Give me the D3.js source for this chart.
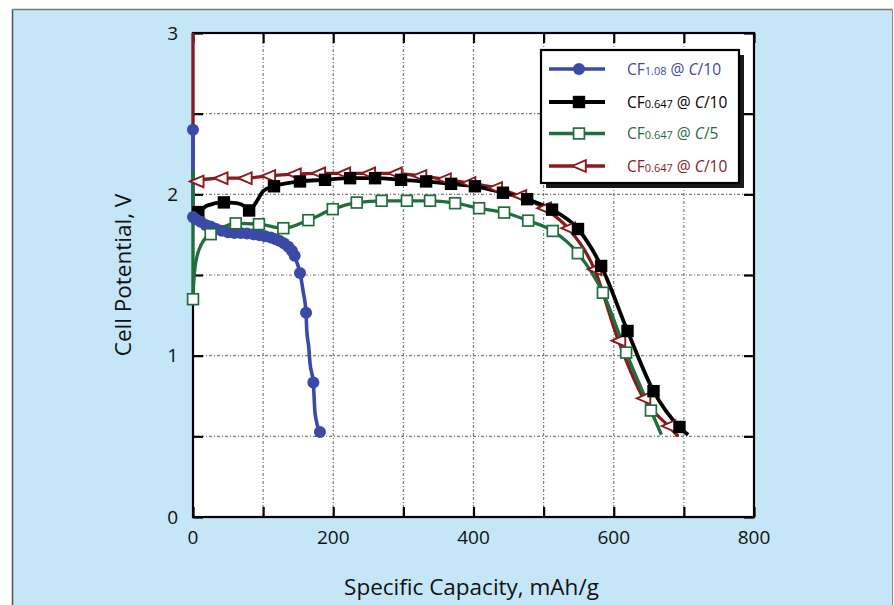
<!DOCTYPE html>
<html>
<head>
<meta charset="utf-8">
<script src="https://cdn.jsdelivr.net/npm/d3@7/dist/d3.min.js"></script>
<style>
  html, body { margin: 0; padding: 0; background: #ffffff; }
  svg { display: block; font-family: "Open Sans", "DejaVu Sans", sans-serif; }
</style>
</head>
<body>
<svg id="chart" width="894" height="605"></svg>
<script>
// ---------------- DATA ----------------
const xTicks = [0, 100, 200, 300, 400, 500, 600, 700, 800];
const xTickLabels = [0, 200, 400, 600, 800];
const yTicks = [0, 0.5, 1, 1.5, 2, 2.5, 3];
const yTickLabels = [0, 1, 2, 3];

// CF1.08 @ C/10 (blue)
const blueLineCap  = [0, 0, 4, 10, 24, 43, 67, 91, 110, 124, 136, 143, 148, 152.6, 157, 161.2, 162.2, 165, 166.9, 171.6, 174, 181];
const blueLineVolt = [2.40, 1.86, 1.845, 1.83, 1.80, 1.77, 1.76, 1.75, 1.735, 1.71, 1.675, 1.635, 1.58, 1.513, 1.40, 1.266, 1.16, 1.055, 0.952, 0.833, 0.645, 0.527];
const blueMarkCap  = [0, 0, 4, 11, 18, 25, 33, 41, 50, 59, 68, 77, 86, 95, 103, 111, 118, 124, 130, 136, 141, 145, 152.6, 161.2, 171.6, 181];
const blueMarkVolt = [2.40, 1.86, 1.845, 1.83, 1.81, 1.80, 1.785, 1.775, 1.765, 1.76, 1.76, 1.757, 1.752, 1.747, 1.74, 1.733, 1.722, 1.71, 1.695, 1.675, 1.65, 1.62, 1.513, 1.266, 0.833, 0.527];

// CF0.647 @ C/10 (black)
const blackLineCap  = [0, 7.6, 20, 44, 62, 74, 80, 90, 100, 115.5, 152.6, 188.3, 224, 259.6, 296.7, 332.4, 368, 402, 442, 476.5, 512, 549, 582, 619.6, 656.7, 693.7, 706];
const blackLineVolt = [1.88, 1.89, 1.93, 1.95, 1.945, 1.925, 1.90, 1.95, 2.02, 2.05, 2.08, 2.09, 2.10, 2.10, 2.09, 2.08, 2.065, 2.05, 2.01, 1.97, 1.905, 1.785, 1.556, 1.153, 0.78, 0.558, 0.51];
const blackMarkCap  = [7.6, 44, 80, 115.5, 152.6, 188.3, 224, 259.6, 296.7, 332.4, 368, 402, 442, 476.5, 512, 549, 582, 619.6, 656.7, 693.7];
const blackMarkVolt = [1.89, 1.95, 1.90, 2.05, 2.08, 2.09, 2.10, 2.10, 2.09, 2.08, 2.065, 2.05, 2.01, 1.97, 1.905, 1.785, 1.556, 1.153, 0.78, 0.558];

// CF0.647 @ C/5 (green)
const greenLineCap  = [0, 0, 1, 3, 6, 12, 18, 25.2, 40, 61, 94, 128.8, 164.5, 199.3, 233.5, 269, 305, 338, 373.7, 408, 443.6, 478, 513, 548.8, 584.5, 617.7, 653, 668];
const greenLineVolt = [2.15, 1.35, 1.45, 1.55, 1.62, 1.69, 1.73, 1.753, 1.79, 1.82, 1.815, 1.79, 1.84, 1.908, 1.949, 1.96, 1.96, 1.96, 1.945, 1.914, 1.887, 1.837, 1.773, 1.635, 1.39, 1.019, 0.66, 0.51];
const greenMarkCap  = [0, 25.2, 61, 94, 128.8, 164.5, 199.3, 233.5, 269, 305, 338, 373.7, 408, 443.6, 478, 513, 548.8, 584.5, 617.7, 653];
const greenMarkVolt = [1.35, 1.753, 1.82, 1.815, 1.79, 1.84, 1.908, 1.949, 1.96, 1.96, 1.96, 1.945, 1.914, 1.887, 1.837, 1.773, 1.635, 1.39, 1.019, 0.66];

// CF0.647 @ C/10 (dark red)
const redLineCap  = [0, 0, 5.3, 39.5, 74, 107.4, 144, 178.7, 214.4, 250, 288, 323, 358, 393, 431, 465.5, 500.7, 535, 572.5, 606.7, 642.4, 678, 692];
const redLineVolt = [3.0, 2.09, 2.09, 2.10, 2.10, 2.114, 2.125, 2.13, 2.13, 2.13, 2.13, 2.114, 2.094, 2.07, 2.04, 1.99, 1.914, 1.79, 1.535, 1.093, 0.736, 0.564, 0.50];
const redMarkCap  = [5.3, 39.5, 74, 107.4, 144, 178.7, 214.4, 250, 288, 323, 358, 393, 431, 465.5, 500.7, 535, 572.5, 606.7, 642.4, 678];
const redMarkVolt = [2.08, 2.10, 2.10, 2.114, 2.125, 2.13, 2.13, 2.13, 2.13, 2.114, 2.094, 2.07, 2.04, 1.99, 1.914, 1.79, 1.535, 1.093, 0.736, 0.564];

const legendSub = ["1.08", "0.647", "0.647", "0.647"];
const legendRate = ["/10", "/10", "/5", "/10"];

// ---------------- LAYOUT ----------------
const svg = d3.select("#chart");
const W = 894, H = 605;
const plot = { left: 193, right: 754, top: 33, bottom: 517 };

const x = d3.scaleLinear().domain([0, 800]).range([plot.left, plot.right]);
const y = d3.scaleLinear().domain([0, 3]).range([plot.bottom, plot.top]);

// background panel
svg.append("rect").attr("x", 12.5).attr("y", 9.5).attr("width", W - 12.5 - 1.5).attr("height", H)
  .attr("fill", "#c4e6f6");
svg.append("line").attr("x1", 12.5).attr("x2", W - 1.5).attr("y1", 9.5).attr("y2", 9.5)
  .attr("stroke", "#7a7a7a").attr("stroke-width", 1.5);
svg.append("line").attr("x1", 12.5).attr("x2", 12.5).attr("y1", 9.5).attr("y2", H)
  .attr("stroke", "#555").attr("stroke-width", 1.5);
svg.append("line").attr("x1", W - 1.5).attr("x2", W - 1.5).attr("y1", 9.5).attr("y2", H)
  .attr("stroke", "#7f8f99").attr("stroke-width", 1);

// plot area
svg.append("rect").attr("x", plot.left).attr("y", plot.top)
  .attr("width", plot.right - plot.left).attr("height", plot.bottom - plot.top)
  .attr("fill", "#ffffff");

// grid
const grid = svg.append("g").attr("stroke", "#7a7a7a").attr("stroke-width", 1.2)
  .attr("stroke-dasharray", "3,2,1,2");
grid.selectAll("line.gx").data(xTicks.filter(d => d > 0 && d < 800)).join("line")
  .attr("x1", d => x(d)).attr("x2", d => x(d)).attr("y1", plot.top).attr("y2", plot.bottom);
grid.selectAll("line.gy").data(yTicks.filter(d => d > 0 && d < 3)).join("line")
  .attr("y1", d => y(d)).attr("y2", d => y(d)).attr("x1", plot.left).attr("x2", plot.right);

// axes with inward ticks
const tickLen = 10;
const axB = svg.append("g").attr("transform", `translate(0,${plot.bottom})`)
  .call(d3.axisBottom(x).tickValues(xTicks).tickSize(-tickLen).tickFormat(""));
const axT = svg.append("g").attr("transform", `translate(0,${plot.top})`)
  .call(d3.axisTop(x).tickValues(xTicks).tickSize(-tickLen).tickFormat(""));
const axL = svg.append("g").attr("transform", `translate(${plot.left},0)`)
  .call(d3.axisLeft(y).tickValues(yTicks).tickSize(-tickLen).tickFormat(""));
const axR = svg.append("g").attr("transform", `translate(${plot.right},0)`)
  .call(d3.axisRight(y).tickValues(yTicks).tickSize(-tickLen).tickFormat(""));
[axB, axT, axL, axR].forEach(a => {
  a.select(".domain").remove();
  a.selectAll(".tick line").attr("stroke", "#000").attr("stroke-width", 2.2);
});
svg.append("rect").attr("x", plot.left).attr("y", plot.top)
  .attr("width", plot.right - plot.left).attr("height", plot.bottom - plot.top)
  .attr("fill", "none").attr("stroke", "#000").attr("stroke-width", 2.2);

// tick labels
svg.append("g").selectAll("text").data(xTickLabels).join("text")
  .attr("x", d => x(d)).attr("y", plot.bottom + 27)
  .attr("text-anchor", "middle").attr("font-size", 19).attr("fill", "#111")
  .text(d => d);
svg.append("g").selectAll("text").data(yTickLabels).join("text")
  .attr("x", plot.left - 15).attr("y", d => y(d))
  .attr("dy", "0.35em")
  .attr("text-anchor", "end").attr("font-size", 19).attr("fill", "#111")
  .text(d => d);

// axis titles
svg.append("text").attr("x", (plot.left + plot.right) / 2 - 2).attr("y", 595)
  .attr("text-anchor", "middle").attr("font-size", 22.5).attr("fill", "#111")
  .text("Specific Capacity, mAh/g");
svg.append("text").attr("transform", `translate(131,${(plot.top + plot.bottom) / 2}) rotate(-90)`)
  .attr("text-anchor", "middle").attr("font-size", 22.5).attr("fill", "#111")
  .text("Cell Potential, V");

// ---------------- SERIES ----------------
const series = [
  { name: "red",   color: "#8b1a1f", lw: 3.3, lc: redLineCap,   lv: redLineVolt,   mc: redMarkCap,   mv: redMarkVolt,   marker: "triL" },
  { name: "black", color: "#000000", lw: 3.8, lc: blackLineCap, lv: blackLineVolt, mc: blackMarkCap, mv: blackMarkVolt, marker: "sqF" },
  { name: "blue",  color: "#3a4aa6", lw: 3.6, lc: blueLineCap,  lv: blueLineVolt,  mc: blueMarkCap,  mv: blueMarkVolt,  marker: "circ" },
  { name: "green", color: "#1f6e3c", lw: 3.3, lc: greenLineCap, lv: greenLineVolt, mc: greenMarkCap, mv: greenMarkVolt, marker: "sqO" }
];

const gLines = svg.append("g");
const gMarks = svg.append("g");

function drawMarker(g, type, color, cx, cy) {
  if (type === "circ") {
    g.append("circle").attr("cx", cx).attr("cy", cy).attr("r", 6).attr("fill", color);
  } else if (type === "sqF") {
    const h = 6.2;
    g.append("rect").attr("x", cx - h).attr("y", cy - h).attr("width", 2 * h).attr("height", 2 * h).attr("fill", color);
  } else if (type === "sqO") {
    const h = 5.4;
    g.append("rect").attr("x", cx - h).attr("y", cy - h).attr("width", 2 * h).attr("height", 2 * h)
      .attr("fill", "#fff").attr("stroke", color).attr("stroke-width", 1.7);
  } else if (type === "triL") {
    const w = 6.8, hh = 5.8;
    g.append("path")
      .attr("d", `M${cx - w},${cy} L${cx + w},${cy - hh} L${cx + w},${cy + hh} Z`)
      .attr("fill", "#fff").attr("stroke", color).attr("stroke-width", 1.9).attr("stroke-linejoin", "miter");
  }
}

series.forEach(s => {
  const pts = s.lc.map((c, i) => [c, s.lv[i]]);
  // leading vertical segment (same capacity) drawn straight, remainder smooth
  let k = 0;
  while (k + 1 < pts.length && pts[k + 1][0] === pts[0][0]) k++;
  const lead = pts.slice(0, k + 1);
  const rest = pts.slice(k);
  if (lead.length > 1) {
    gLines.append("path").attr("d", d3.line().x(d => x(d[0])).y(d => y(d[1]))(lead))
      .attr("fill", "none").attr("stroke", s.color).attr("stroke-width", s.lw);
  }
  gLines.append("path")
    .attr("d", d3.line().x(d => x(d[0])).y(d => y(d[1])).curve(d3.curveMonotoneX)(rest))
    .attr("fill", "none").attr("stroke", s.color).attr("stroke-width", s.lw)
    .attr("stroke-linejoin", "round").attr("stroke-linecap", "butt");
});
series.forEach(s => {
  s.mc.forEach((c, i) => drawMarker(gMarks, s.marker, s.color, x(c), y(s.mv[i])));
});

// ---------------- LEGEND ----------------
const lg = { x: 541, y: 50, w: 198, h: 133 };
svg.append("rect").attr("x", lg.x + 5).attr("y", lg.y + 5).attr("width", lg.w).attr("height", lg.h).attr("fill", "#1a1a1a");
svg.append("rect").attr("x", lg.x).attr("y", lg.y).attr("width", lg.w).attr("height", lg.h)
  .attr("fill", "#fff").attr("stroke", "#000").attr("stroke-width", 2.2);

const legendOrder = [series[2], series[1], series[3], series[0]];
const rowY = [69, 102, 133.5, 166];
legendOrder.forEach((s, i) => {
  const ry = rowY[i];
  svg.append("line").attr("x1", 549).attr("x2", 605).attr("y1", ry).attr("y2", ry)
    .attr("stroke", s.color).attr("stroke-width", s.lw);
  drawMarker(svg, s.marker, s.color, 579, ry);
  const t = svg.append("text").attr("x", 627).attr("y", ry + 5.5).attr("fill", s.color).attr("font-size", 15.5);
  t.append("tspan").text("CF");
  t.append("tspan").attr("font-size", 11).text(legendSub[i]);
  t.append("tspan").text(" @ ");
  t.append("tspan").attr("font-style", "italic").text("C");
  t.append("tspan").text(legendRate[i]);
});
</script>
</body>
</html>
